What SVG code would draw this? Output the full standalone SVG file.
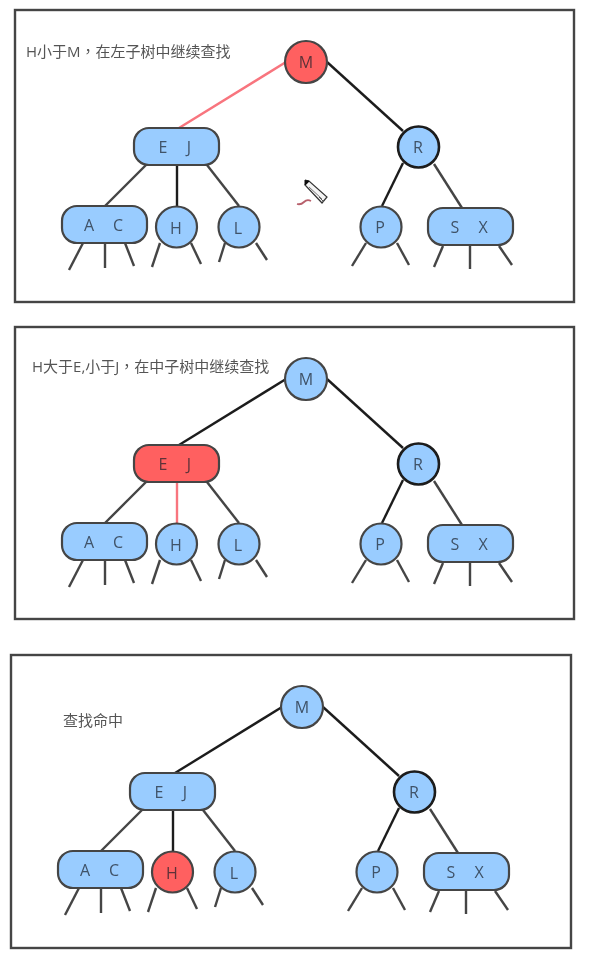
<svg xmlns="http://www.w3.org/2000/svg" width="591" height="969" viewBox="0 0 591 969">
<style>
.frame{fill:#fff;stroke:#444;stroke-width:2.4}
.n{fill:#99ccff;stroke:#444;stroke-width:2.2}
.hit{fill:#ff6060}
.strong{stroke:#1a1a1a;stroke-width:2.6}
.l{fill:#3f5268;font:16px "Open Sans","Noto Sans",sans-serif;text-anchor:middle;dominant-baseline:central}
.hitl{fill:#5e3238}
.cap{fill:#555;font:15px "Open Sans","Noto Sans CJK SC",sans-serif}
.comma{font-family:"Noto Sans CJK TC",sans-serif}
.c line{stroke:#444;stroke-width:2.4;stroke-linecap:butt}
.c line.dark{stroke:#1e1e1e}
.c line.pink{stroke:#f8747e}
</style>
<defs><filter id="soft" filterUnits="userSpaceOnUse" x="0" y="0" width="591" height="969"><feGaussianBlur stdDeviation="0.4"/></filter></defs>
<rect width="591" height="969" fill="#fff"/>
<g filter="url(#soft)">
<g id="panel1">
<rect class="frame" x="15" y="10" width="559" height="292"/>
<text class="cap" x="26" y="57">H小于M<tspan class="comma">，</tspan>在左子树中继续查找</text>
<g class="c" id="panel1-connectors">
<line class="pink" x1="286" y1="62" x2="179" y2="128"/><line class="dark" x1="327" y1="62" x2="403" y2="131"/>
<line x1="146" y1="165" x2="105" y2="206"/><line class="dark" x1="177" y1="165" x2="177" y2="206"/><line x1="207" y1="165" x2="239" y2="206"/>
<line x1="83" y1="243" x2="69" y2="270"/><line x1="105" y1="243" x2="105" y2="268"/><line x1="125" y1="243" x2="134" y2="266"/>
<line x1="160" y1="243" x2="152" y2="267"/><line x1="191" y1="243" x2="201" y2="264"/>
<line x1="225" y1="243" x2="219" y2="262"/><line x1="256" y1="243" x2="267" y2="260"/>
<line class="dark" x1="403" y1="163" x2="382" y2="206"/><line x1="434" y1="164" x2="462" y2="208"/>
<line x1="366" y1="243" x2="352" y2="266"/><line x1="397" y1="243" x2="409" y2="265"/>
<line x1="443" y1="246" x2="434" y2="267"/><line x1="470" y1="246" x2="470" y2="269"/><line x1="499" y1="246" x2="512" y2="265"/>
</g>
<g id="p1-M"><circle class="n hit" cx="306" cy="62" r="21"/><text class="l hitl" x="306" y="62">M</text></g>
<g id="p1-EJ"><rect class="n" x="134" y="128" width="85" height="37" rx="15"/><text class="l" x="163" y="147">E</text><text class="l" x="189" y="147">J</text></g>
<g id="p1-R"><circle class="n strong" cx="418.500" cy="147" r="20.500"/><text class="l" x="418" y="147">R</text></g>
<g id="p1-AC"><rect class="n" x="62" y="206" width="85" height="37" rx="15"/><text class="l" x="89" y="225">A</text><text class="l" x="118" y="225">C</text></g>
<g id="p1-H"><circle class="n" cx="176.500" cy="227" r="20.500"/><text class="l" x="176" y="228">H</text></g>
<g id="p1-L"><circle class="n" cx="239" cy="227" r="20.500"/><text class="l" x="238" y="228">L</text></g>
<g id="p1-P"><circle class="n" cx="381" cy="227" r="20.500"/><text class="l" x="380" y="227">P</text></g>
<g id="p1-SX"><rect class="n" x="428" y="208" width="85" height="37" rx="15"/><text class="l" x="455" y="227">S</text><text class="l" x="483" y="227">X</text></g>
<g id="pencil">
<polygon points="305,185 309,181 327,197 322,203" fill="#f4f4f4" stroke="#333" stroke-width="1.200"/>
<line x1="309" y1="187" x2="322" y2="199" stroke="#777"/>
<line x1="319" y1="197" x2="324" y2="202" stroke="#555"/>
<polygon points="305,185 309,181 305,180" fill="#111" stroke="#111"/>
<path d="M297 204 Q301 205 304 202 T311 201" fill="none" stroke="#b8606c" stroke-width="1.800"/>
</g>
</g>
<g id="panel2">
<rect class="frame" x="15" y="327" width="559" height="292"/>
<text class="cap" x="32" y="372">H大于E,小于J<tspan class="comma">，</tspan>在中子树中继续查找</text>
<g class="c" id="panel2-connectors" transform="translate(0 317)">
<line class="dark" x1="286" y1="62" x2="179" y2="128"/><line class="dark" x1="327" y1="62" x2="403" y2="131"/>
<line x1="146" y1="165" x2="105" y2="206"/><line class="pink" x1="177" y1="165" x2="177" y2="206"/><line x1="207" y1="165" x2="239" y2="206"/>
<line x1="83" y1="243" x2="69" y2="270"/><line x1="105" y1="243" x2="105" y2="268"/><line x1="125" y1="243" x2="134" y2="266"/>
<line x1="160" y1="243" x2="152" y2="267"/><line x1="191" y1="243" x2="201" y2="264"/>
<line x1="225" y1="243" x2="219" y2="262"/><line x1="256" y1="243" x2="267" y2="260"/>
<line class="dark" x1="403" y1="163" x2="382" y2="206"/><line x1="434" y1="164" x2="462" y2="208"/>
<line x1="366" y1="243" x2="352" y2="266"/><line x1="397" y1="243" x2="409" y2="265"/>
<line x1="443" y1="246" x2="434" y2="267"/><line x1="470" y1="246" x2="470" y2="269"/><line x1="499" y1="246" x2="512" y2="265"/>
</g>
<g transform="translate(0 317)">
<g id="p2-M"><circle class="n" cx="306" cy="62" r="21"/><text class="l" x="306" y="62">M</text></g>
<g id="p2-EJ"><rect class="n hit" x="134" y="128" width="85" height="37" rx="15"/><text class="l hitl" x="163" y="147">E</text><text class="l hitl" x="189" y="147">J</text></g>
<g id="p2-R"><circle class="n strong" cx="418.500" cy="147" r="20.500"/><text class="l" x="418" y="147">R</text></g>
<g id="p2-AC"><rect class="n" x="62" y="206" width="85" height="37" rx="15"/><text class="l" x="89" y="225">A</text><text class="l" x="118" y="225">C</text></g>
<g id="p2-H"><circle class="n" cx="176.500" cy="227" r="20.500"/><text class="l" x="176" y="228">H</text></g>
<g id="p2-L"><circle class="n" cx="239" cy="227" r="20.500"/><text class="l" x="238" y="228">L</text></g>
<g id="p2-P"><circle class="n" cx="381" cy="227" r="20.500"/><text class="l" x="380" y="227">P</text></g>
<g id="p2-SX"><rect class="n" x="428" y="208" width="85" height="37" rx="15"/><text class="l" x="455" y="227">S</text><text class="l" x="483" y="227">X</text></g>
</g>
</g>
<g id="panel3">
<rect class="frame" x="11" y="655" width="560" height="293"/>
<text class="cap" x="63" y="726">查找命中</text>
<g class="c" id="panel3-connectors" transform="translate(-4 645)">
<line class="dark" x1="286" y1="62" x2="179" y2="128"/><line class="dark" x1="327" y1="62" x2="403" y2="131"/>
<line x1="146" y1="165" x2="105" y2="206"/><line class="dark" x1="177" y1="165" x2="177" y2="206"/><line x1="207" y1="165" x2="239" y2="206"/>
<line x1="83" y1="243" x2="69" y2="270"/><line x1="105" y1="243" x2="105" y2="268"/><line x1="125" y1="243" x2="134" y2="266"/>
<line x1="160" y1="243" x2="152" y2="267"/><line x1="191" y1="243" x2="201" y2="264"/>
<line x1="225" y1="243" x2="219" y2="262"/><line x1="256" y1="243" x2="267" y2="260"/>
<line class="dark" x1="403" y1="163" x2="382" y2="206"/><line x1="434" y1="164" x2="462" y2="208"/>
<line x1="366" y1="243" x2="352" y2="266"/><line x1="397" y1="243" x2="409" y2="265"/>
<line x1="443" y1="246" x2="434" y2="267"/><line x1="470" y1="246" x2="470" y2="269"/><line x1="499" y1="246" x2="512" y2="265"/>
</g>
<g transform="translate(-4 645)">
<g id="p3-M"><circle class="n" cx="306" cy="62" r="21"/><text class="l" x="306" y="62">M</text></g>
<g id="p3-EJ"><rect class="n" x="134" y="128" width="85" height="37" rx="15"/><text class="l" x="163" y="147">E</text><text class="l" x="189" y="147">J</text></g>
<g id="p3-R"><circle class="n strong" cx="418.500" cy="147" r="20.500"/><text class="l" x="418" y="147">R</text></g>
<g id="p3-AC"><rect class="n" x="62" y="206" width="85" height="37" rx="15"/><text class="l" x="89" y="225">A</text><text class="l" x="118" y="225">C</text></g>
<g id="p3-H"><circle class="n hit" cx="176.500" cy="227" r="20.500"/><text class="l hitl" x="176" y="228">H</text></g>
<g id="p3-L"><circle class="n" cx="239" cy="227" r="20.500"/><text class="l" x="238" y="228">L</text></g>
<g id="p3-P"><circle class="n" cx="381" cy="227" r="20.500"/><text class="l" x="380" y="227">P</text></g>
<g id="p3-SX"><rect class="n" x="428" y="208" width="85" height="37" rx="15"/><text class="l" x="455" y="227">S</text><text class="l" x="483" y="227">X</text></g>
</g>
</g>
</g>
</svg>
